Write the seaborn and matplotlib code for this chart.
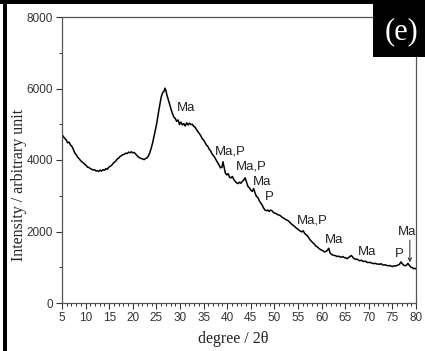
import matplotlib
matplotlib.use("Agg")
import matplotlib.pyplot as plt
import seaborn as sns
import pandas as pd
from matplotlib.patches import Rectangle
from matplotlib.ticker import MultipleLocator

# XRD pattern: diffraction angle (2-theta, degrees) and intensity (arbitrary units)
two_theta = [
    5.0, 5.3, 5.6, 5.9, 6.2, 6.5, 6.8, 7.1, 7.4, 7.7, 8.0, 8.3, 8.6, 8.9, 9.2, 9.5,
    9.8, 10.1, 10.4, 10.7, 11.0, 11.3, 11.6, 11.9, 12.2, 12.5, 12.8, 13.1, 13.4, 13.7,
    14.0, 14.3, 14.6, 14.9, 15.2, 15.5, 15.8, 16.1, 16.4, 16.7, 17.0, 17.3, 17.6, 17.9,
    18.2, 18.5, 18.8, 19.1, 19.4, 19.7, 20.0, 20.3, 20.6, 20.9, 21.2, 21.5, 21.8, 22.1,
    22.4, 22.7, 23.0, 23.3, 23.6, 23.9, 24.2, 24.5, 24.8, 25.1, 25.4, 25.7, 26.0, 26.3,
    26.6, 26.8, 27.0, 27.2, 27.5, 27.8, 28.1, 28.4, 28.7, 29.0, 29.3, 29.6, 29.9, 30.2,
    30.5, 30.8, 31.1, 31.4, 31.7, 32.0, 32.3, 32.6, 32.9, 33.2, 33.5, 33.8, 34.1, 34.4,
    34.7, 35.0, 35.3, 35.6, 35.9, 36.2, 36.5, 36.8, 37.1, 37.4, 37.7, 38.0, 38.3, 38.6,
    38.9, 39.1, 39.3, 39.6, 39.9, 40.2, 40.5, 40.8, 41.1, 41.4, 41.7, 42.0, 42.3, 42.6,
    42.9, 43.2, 43.5, 43.8, 44.1, 44.4, 44.7, 45.0, 45.3, 45.6, 45.9, 46.2, 46.5, 46.8,
    47.1, 47.4, 47.7, 48.0, 48.3, 48.6, 48.9, 49.2, 49.5, 49.8, 50.1, 50.4, 50.7, 51.0,
    51.3, 51.6, 51.9, 52.2, 52.5, 52.8, 53.1, 53.4, 53.7, 54.0, 54.3, 54.6, 54.9, 55.2,
    55.5, 55.8, 56.1, 56.4, 56.7, 57.0, 57.3, 57.6, 57.9, 58.2, 58.5, 58.8, 59.1, 59.4,
    59.7, 60.0, 60.3, 60.6, 60.9, 61.2, 61.5, 61.8, 62.1, 62.4, 62.7, 63.0, 63.3, 63.6,
    63.9, 64.2, 64.5, 64.8, 65.1, 65.4, 65.7, 66.0, 66.3, 66.6, 66.9, 67.2, 67.5, 67.8,
    68.1, 68.4, 68.7, 69.0, 69.3, 69.6, 69.9, 70.2, 70.5, 70.8, 71.1, 71.4, 71.7, 72.0,
    72.3, 72.6, 72.9, 73.2, 73.5, 73.8, 74.1, 74.4, 74.7, 75.0, 75.3, 75.6, 75.9, 76.2,
    76.5, 76.8, 77.1, 77.4, 77.7, 78.0, 78.3, 78.6, 78.9, 79.2, 79.5, 79.8, 80.0,
]
intensity = [
    4720, 4650, 4600, 4560, 4480, 4500, 4420, 4380, 4300, 4200, 4150, 4080, 4040, 3990, 3950, 3920,
    3880, 3850, 3800, 3790, 3760, 3740, 3720, 3730, 3690, 3700, 3680, 3720, 3690, 3730,
    3710, 3760, 3740, 3800, 3820, 3850, 3900, 3940, 3970, 4030, 4050, 4100, 4120, 4150,
    4160, 4190, 4180, 4220, 4200, 4230, 4200, 4210, 4170, 4120, 4080, 4060, 4040, 4030,
    4010, 4040, 4060, 4110, 4200, 4330, 4480, 4660, 4850, 5050, 5300, 5520, 5750, 5880,
    5920, 6010, 5950, 5830, 5700, 5560, 5420, 5300, 5200, 5160, 5080, 5120, 4990, 5060,
    4980, 5020, 4950, 5040, 4980, 5030, 4990, 5000, 4940, 4920, 4850, 4790, 4740, 4680,
    4600, 4560, 4490, 4420, 4380, 4300, 4250, 4170, 4120, 4060, 3990, 3920, 3850, 3780,
    3800, 3950, 3830, 3640, 3580, 3620, 3520, 3500, 3540, 3450, 3400, 3360, 3340, 3380,
    3350, 3400, 3440, 3500, 3380, 3260, 3220, 3160, 3120, 3200, 3080, 2980, 2950, 2860,
    2800, 2740, 2660, 2600, 2580, 2600, 2560, 2600, 2580, 2530, 2510, 2500, 2470, 2460,
    2440, 2400, 2380, 2350, 2330, 2310, 2280, 2240, 2200, 2170, 2140, 2100, 2070, 2040,
    2010, 1990, 2020, 1950, 1910, 1880, 1820, 1760, 1720, 1680, 1640, 1590, 1570, 1530,
    1500, 1480, 1460, 1430, 1440, 1470, 1530, 1400, 1360, 1340, 1330, 1320, 1300, 1310,
    1290, 1280, 1300, 1270, 1260, 1240, 1270, 1300, 1330, 1280, 1240, 1220, 1230, 1200,
    1180, 1200, 1170, 1160, 1170, 1140, 1130, 1140, 1120, 1110, 1100, 1110, 1090, 1090,
    1080, 1100, 1070, 1060, 1070, 1050, 1040, 1050, 1030, 1020, 1040, 1030, 1050, 1060,
    1080, 1150, 1100, 1060, 1040, 1060, 1110, 1050, 1000, 990, 960, 970, 950,
]

# Phase labels (Ma / P) and their positions (2-theta, intensity)
peak_labels = ["Ma", "Ma,P", "Ma,P", "Ma", "P", "Ma,P", "Ma", "Ma", "P", "Ma"]
label_x = [29.4, 37.4, 41.9, 45.5, 48.0, 54.8, 60.7, 67.7, 75.6, 76.2]
label_y = [5450, 4250, 3805, 3385, 2965, 2295, 1760, 1425, 1370, 1985]

x_ticks = [5, 10, 15, 20, 25, 30, 35, 40, 45, 50, 55, 60, 65, 70, 75, 80]
y_ticks = [0, 2000, 4000, 6000, 8000]

sns.set_style("ticks")
plt.rcParams["font.family"] = ["Liberation Sans", "DejaVu Sans"]
serif = ["Liberation Serif", "DejaVu Serif"]

fig = plt.figure(figsize=(4.25, 3.51), dpi=100)
ax = fig.add_axes([62 / 425, 1 - 303 / 351, 354 / 425, 286 / 351])

df = pd.DataFrame({"two_theta": two_theta, "intensity": intensity})
sns.lineplot(data=df, x="two_theta", y="intensity", color="black", linewidth=1.1,
             ax=ax, sort=False)

ax.set_xlim(5, 80)
ax.set_ylim(0, 8000)
ax.set_xticks(x_ticks)
ax.set_yticks(y_ticks)
ax.xaxis.set_minor_locator(MultipleLocator(1))
ax.yaxis.set_minor_locator(MultipleLocator(1000))
ax.tick_params(axis="both", which="major", direction="out", length=4, width=0.8,
               labelsize=8.5, colors="#333333", pad=2.5)
ax.tick_params(axis="both", which="minor", direction="out", length=2.5, width=0.7,
               colors="#333333")
ax.tick_params(top=False, right=False)
for side in ["left", "bottom", "top", "right"]:
    ax.spines[side].set_visible(True)
    ax.spines[side].set_color("#555555")
    ax.spines[side].set_linewidth(0.9)

ax.set_xlabel("degree / 2θ", family=serif, fontsize=11.5, color="#222222")
ax.set_ylabel("Intensity / arbitrary unit", family=serif, fontsize=11.5, color="#222222")
ax.xaxis.set_label_coords((233 - 62) / 354, -(339 - 303) / 286)
ax.yaxis.set_label_coords(-(62 - 19) / 354, (303 - 185) / 286)
ax.xaxis.label.set_va("center")
ax.yaxis.label.set_va("center")

for txt, lx, ly in zip(peak_labels, label_x, label_y):
    ax.text(lx, ly, txt, fontsize=9.5, ha="left", va="center", color="#222222")

# Arrow pointing at the weak Ma reflection near 78.7 degrees
ax.annotate("", xy=(78.7, 1140), xytext=(78.7, 1760),
            arrowprops=dict(arrowstyle="->", lw=0.7, color="#222222",
                            shrinkA=0, shrinkB=0, mutation_scale=6))

# Panel letter in a black box and the frame edges
fig.patches.append(Rectangle((373 / 425, 1 - 57 / 351), 52 / 425, 57 / 351,
                             transform=fig.transFigure, facecolor="black",
                             edgecolor="none", zorder=5))
fig.text(401 / 425, 1 - 32 / 351, "(e)", color="white", fontsize=22,
         family=serif, ha="center", va="center", zorder=6)
fig.patches.append(Rectangle((0, 1 - 4 / 351), 1, 4 / 351, transform=fig.transFigure,
                             facecolor="black", edgecolor="none", zorder=5))
fig.patches.append(Rectangle((3 / 425, 0), 4 / 425, 1, transform=fig.transFigure,
                             facecolor="black", edgecolor="none", zorder=5))

fig.savefig("out.png", dpi=100)
